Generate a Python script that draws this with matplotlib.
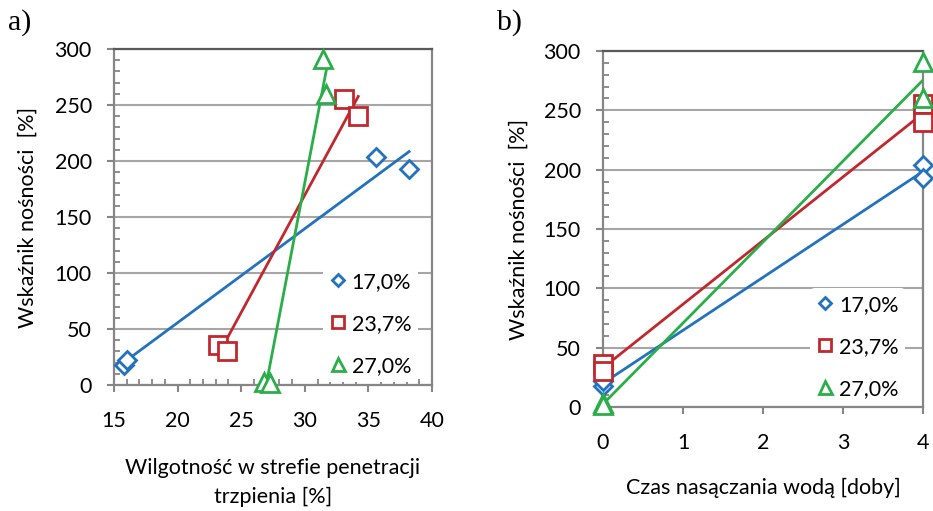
import numpy as np
import matplotlib
matplotlib.use("Agg")
import matplotlib.pyplot as plt
from matplotlib.ticker import MultipleLocator

plt.rcParams['font.family'] = ['Lato', 'DejaVu Sans']

series_labels = ["17,0%", "23,7%", "27,0%"]
colors = ["#2272BE", "#C0282E", "#2AAE4A"]
markers = ["D", "s", "^"]

# panel a: moisture in penetration zone [%] vs bearing ratio [%]
moist_17 = [15.75, 16.0, 35.6, 38.2]
cbr_17 = [18, 22, 204, 193]
moist_237 = [23.2, 23.9, 33.1, 34.2]
cbr_237 = [36, 30, 255, 240]
moist_27 = [26.8, 27.25, 31.45, 31.7]
cbr_27 = [3, 2, 291, 260]

# panel b: soaking time [days] vs bearing ratio [%]
days = [0, 0, 4, 4]

a_x = [moist_17, moist_237, moist_27]
cbr = [cbr_17, cbr_237, cbr_27]

FS = 15.5

fig = plt.figure(figsize=(9.33, 5.11), dpi=100)
W, H = 933, 511

def add_ax(l, r, t, b):
    return fig.add_axes([l / W, 1 - b / H, (r - l) / W, (b - t) / H])

ax1 = add_ax(114, 432, 49, 385)
ax2 = add_ax(603, 923, 51, 407)

grid_c = "#A6A6A6"
ms_main = {"D": 9, "s": 12.5, "^": 13}

def style(ax):
    for s in ["left", "bottom", "right"]:
        ax.spines[s].set_color("#868686")
        ax.spines[s].set_linewidth(1.6)
    ax.spines["top"].set_color("#595959")
    ax.spines["top"].set_linewidth(1.6)
    ax.set_axisbelow(True)
    ax.yaxis.grid(True, which="major", color=grid_c, linewidth=1.5)
    ax.tick_params(axis="both", which="major", direction="out", length=5, width=1.5,
                   color="#868686", labelsize=FS)
    ax.tick_params(axis="y", which="major", pad=11)
    ax.tick_params(axis="x", which="major", pad=14)
    ax.tick_params(axis="both", which="minor", direction="in", length=4.5, width=1.3,
                   color="#868686")
    ax.set_ylim(0, 300)
    ax.yaxis.set_major_locator(MultipleLocator(50))
    ax.yaxis.set_minor_locator(MultipleLocator(10))

def legend(ax, anchor_x, anchor_y):
    leg = ax.legend(loc="lower right", bbox_to_anchor=(anchor_x, anchor_y), frameon=True,
                    fontsize=FS, handlelength=0.8, handletextpad=0.25,
                    labelspacing=1.02, markerscale=0.72, borderaxespad=0.0,
                    borderpad=0.3)
    leg.get_frame().set_facecolor("white")
    leg.get_frame().set_edgecolor("none")
    leg.get_frame().set_alpha(1)
    return leg

# Panel a
for xs, ys, c, m, lab in zip(a_x, cbr, colors, markers, series_labels):
    ax1.plot(xs, ys, linestyle="none", marker=m, ms=ms_main[m], mfc="white", mec=c,
             mew=2.0, label=lab, clip_on=False, zorder=4)
    k, b0 = np.polyfit(xs, ys, 1)
    xx = np.array([min(xs), max(xs)])
    ax1.plot(xx, k * xx + b0, color=c, lw=2.0, zorder=3)
style(ax1)
ax1.set_xlim(15, 40)
ax1.xaxis.set_major_locator(MultipleLocator(5))
ax1.xaxis.set_minor_locator(MultipleLocator(1))
ax1.set_ylabel("Wskaźnik nośności  [%]", fontsize=FS, labelpad=12)
legend(ax1, 0.955, 0.008)
fig.text(273 / W, 1 - 468 / H, "Wilgotność w strefie penetracji", fontsize=FS,
         ha="center", va="center")
fig.text(273 / W, 1 - 497 / H, "trzpienia [%]", fontsize=FS, ha="center", va="center")

# Panel b
for ys, c, m, lab in zip(cbr, colors, markers, series_labels):
    ax2.plot(days, ys, linestyle="none", marker=m, ms=ms_main[m], mfc="white", mec=c,
             mew=2.0, label=lab, clip_on=False, zorder=4)
    k, b0 = np.polyfit(days, ys, 1)
    xx = np.array([0, 4])
    ax2.plot(xx, k * xx + b0, color=c, lw=2.0, zorder=3)
style(ax2)
ax2.set_xlim(0, 4)
ax2.xaxis.set_major_locator(MultipleLocator(1))
ax2.set_ylabel("Wskaźnik nośności  [%]", fontsize=FS, labelpad=11)
legend(ax2, 0.945, 0.005)
fig.text(763 / W, 1 - 488 / H, "Czas nasączania wodą [doby]", fontsize=FS,
         ha="center", va="center")

fig.text(8 / W, 1 - 23 / H, "a)", fontsize=21.5, family="Liberation Serif", va="center")
fig.text(497 / W, 1 - 23 / H, "b)", fontsize=21.5, family="Liberation Serif", va="center")

fig.savefig("out.png", dpi=100)
